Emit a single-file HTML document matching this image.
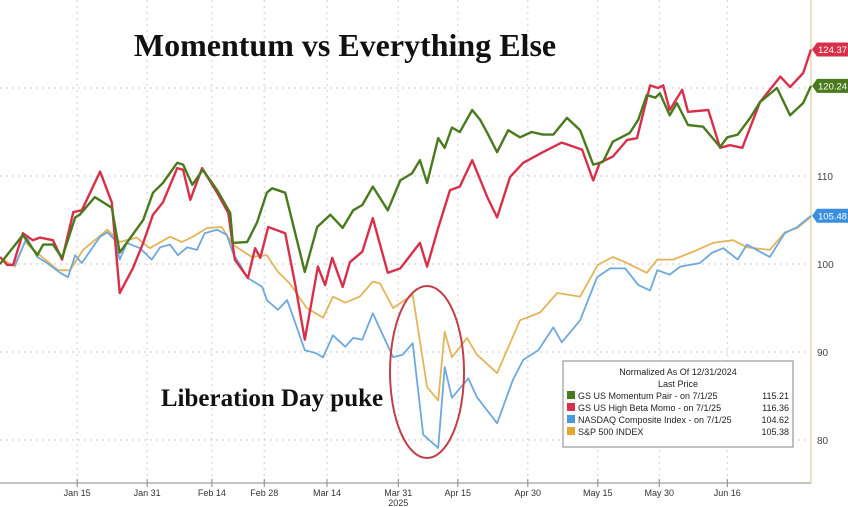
<!DOCTYPE html>
<html><head><meta charset="utf-8"><style>
body{margin:0;background:#fff;}
svg{display:block;font-family:"Liberation Sans",sans-serif;}
</style></head><body>
<svg id="chart" width="848" height="507" viewBox="0 0 848 507">
<g id="grid"></g>
<line x1="811" y1="0" x2="811" y2="483" stroke="#e6d9b0" stroke-width="1.5"/>
<g id="series"></g>
<line x1="0" y1="483" x2="811" y2="483" stroke="#888" stroke-width="1"/>
<g id="xaxis"></g>
<g id="yaxis"></g>
<g id="endlabels"></g>
<text x="345" y="56" text-anchor="middle" font-family="Liberation Serif,serif" font-weight="bold" font-size="32" fill="#111">Momentum vs Everything Else</text>
<text x="272" y="406" text-anchor="middle" font-family="Liberation Serif,serif" font-weight="bold" font-size="25" fill="#111">Liberation Day puke</text>
<ellipse cx="427" cy="372" rx="37" ry="86" fill="none" stroke="#c0404a" stroke-width="2"/>
<g>
<rect x="563" y="361" width="230" height="86" fill="#fff" stroke="#999" stroke-width="1.2"/>
<text x="678" y="375" text-anchor="middle" font-size="9" fill="#222">Normalized As Of 12/31/2024</text>
<text x="678" y="387" text-anchor="middle" font-size="9" fill="#222">Last Price</text>
<g font-size="9" fill="#222">
<rect x="567" y="391" width="8" height="8" fill="#4a7a1e"/>
<text x="578" y="399">GS US Momentum Pair -  on 7/1/25</text>
<text x="789" y="399" text-anchor="end">115.21</text>
<rect x="567" y="403" width="8" height="8" fill="#d8304a"/>
<text x="578" y="411">GS US High Beta Momo -  on 7/1/25</text>
<text x="789" y="411" text-anchor="end">116.36</text>
<rect x="567" y="415" width="8" height="8" fill="#4a9ae0"/>
<text x="578" y="423">NASDAQ Composite Index -  on 7/1/25</text>
<text x="789" y="423" text-anchor="end">104.62</text>
<rect x="567" y="427" width="8" height="8" fill="#e0a830"/>
<text x="578" y="435">S&amp;P 500 INDEX</text>
<text x="789" y="435" text-anchor="end">105.38</text>
</g></g>
</svg>
<script>
// x = trading day index since 12/31/2024, y = normalized value
const momDays=[0,3.5,5.7,6.6,8.1,9.5,11.5,12.2,14.5,17.1,18.3,21.9,23.4,24.9,27.1,28.0,29.4,31.0,33.2,35.2,35.6,37.8,39.3,40.8,41.6,43.6,46.6,48.5,50.5,52.4,54.0,55.4,57.0,59.3,61.2,63.0,64.2,65.3,67.0,68.0,69.1,70.3,72.2,73.4,74.5,76.0,77.7,79.5,81.3,83.0,84.6,86.7,88.7,90.7,92.2,93.7,96.3,97.6,98.9,100.2,100.9,102.4,103.5,105.2,107.5,110.1,111.2,112.8,114.7,116.2,118.8,120.8,122.8,124];
const momVals=[100,103.3,101.0,102.2,102.2,100.7,105.3,105.6,107.6,106.4,101.3,105.0,108.1,109.2,111.5,111.3,109.0,110.7,108.4,105.8,102.4,102.5,104.7,108.1,108.6,108.1,99.1,104.2,105.6,104.1,106.1,106.7,108.8,106.1,109.5,110.3,111.8,109.2,114.3,113.2,115.5,115.0,117.5,116.4,114.9,112.7,115.2,114.4,115.0,114.7,114.7,116.6,115.2,111.3,111.6,113.9,114.9,116.4,119.2,118.9,119.4,116.9,118.3,115.8,115.6,113.3,114.4,114.7,116.6,118.4,120.0,116.9,118.3,120.24];
const betaDays=[0,1.1,2.0,3.5,5.0,6.1,8.1,9.5,11.2,12.5,15.3,17.1,18.3,20.3,21.9,23.4,24.9,27.1,28.0,29.1,30.9,33.2,34.9,35.9,37.9,39.0,39.8,41.0,43.6,45.1,46.6,48.6,49.7,50.8,52.4,53.5,55.4,57.0,59.3,61.2,64.2,65.3,67.0,68.8,70.3,72.2,74.5,76.0,78.0,80.0,83.0,85.9,89.0,90.7,91.7,93.7,95.9,97.4,99.4,100.6,101.4,102.4,104.3,105.2,108.3,110.1,111.6,113.5,116.2,119.3,120.8,122.8,124];
const betaVals=[100.8,99.9,99.9,103.5,102.7,103.0,102.7,100.5,105.9,106.1,110.5,107.0,96.7,99.5,102.4,105.6,107.0,110.9,110.7,107.3,110.9,108.1,105.8,100.5,98.4,101.8,100.7,104.2,103.5,97.8,91.4,99.7,97.6,100.7,97.4,100.2,101.4,105.2,99.0,99.5,102.4,99.7,104.1,108.4,108.8,111.8,107.6,105.3,109.9,111.5,112.7,113.8,113.0,109.5,111.5,112.2,114.1,114.3,120.3,120.0,120.3,117.5,119.8,117.3,117.5,113.2,113.5,113.2,118.4,121.3,120.1,121.7,124.37];
const ndxDays=[0,1.1,2.3,4.1,5.7,7.2,9.2,10.4,11.5,12.5,15.3,16.4,17.6,18.3,19.4,21.4,23.2,24.5,26.0,27.2,28.6,30.1,31.3,33.2,34.7,35.6,37.9,40.1,40.8,42.5,43.9,45.1,46.6,48.2,49.4,50.9,52.8,54.0,55.4,57.0,60.1,61.6,63.1,64.7,67.0,68.0,69.1,71.6,72.9,76.0,78.4,80.0,82.3,84.6,85.9,88.7,91.3,93.3,95.6,97.6,99.4,100.5,102.4,104.0,107.0,108.9,110.6,112.8,114.2,117.7,120.0,121.9,124];
const ndxVals=[100.8,99.9,99.9,103.0,100.8,100.1,99.0,98.5,101.0,100.1,103.1,103.6,102.7,100.5,102.4,101.8,100.5,101.9,102.2,101.0,101.9,101.6,103.5,103.9,103.3,101.3,98.4,97.4,95.9,94.8,95.9,93.4,90.2,89.9,89.4,91.9,90.6,91.6,91.4,94.4,89.4,89.7,91.0,80.6,79.1,88.3,84.8,87.0,84.9,81.9,86.8,89.1,90.2,92.8,91.1,93.6,98.5,99.5,99.5,97.6,97.0,99.3,98.8,99.7,100.1,101.3,101.8,100.5,102.2,100.8,103.5,104.2,105.48];
const spxDays=[0,2.3,3.8,6.1,8.9,10.7,12.7,16.4,18.3,20.9,22.9,26.0,27.8,29.5,31.7,33.9,35.6,38.5,40.8,42.5,44.3,46.9,49.4,50.9,52.8,55.0,57.0,58.1,60.1,63.1,65.3,67.0,68.0,69.1,71.4,72.9,76.0,79.5,82.6,85.2,88.7,91.4,93.7,95.9,98.9,100.5,102.9,106.0,109.0,112.1,114.2,117.7,120.0,121.9,124];
const spxVals=[100.7,99.7,102.5,101.0,99.3,99.3,101.6,103.9,102.5,103.0,101.8,103.1,102.5,103.1,104.1,104.2,102.2,100.8,101.0,99.1,97.8,95.0,93.9,96.3,95.6,96.3,98.0,97.8,95.0,96.5,86.0,84.5,92.3,89.4,91.6,89.7,87.6,93.6,94.5,96.7,96.3,99.9,100.8,100.1,99.0,100.5,100.5,101.4,102.4,102.7,101.9,101.6,103.6,104.1,105.38];
const tickDays=[11.8,22.5,32.4,40.4,50,60.9,70,80.7,91.4,100.8,111.2];
const tickLabels=["Jan 15","Jan 31","Feb 14","Feb 28","Mar 14","Mar 31","Apr 15","Apr 30","May 15","May 30","Jun 16"];
const yTicks=[80,90,100,110,120];
const yTickLabels=["80","90","100","110",""];

const NS="http://www.w3.org/2000/svg";
const X0=0,X1=811,D1=124;
function xs(d){return X0+(X1-X0)*d/D1;}
function ys(v){return 264-(v-100)*8.8;}
function mk(tag,attrs,parent){const e=document.createElementNS(NS,tag);for(const k in attrs)e.setAttribute(k,attrs[k]);parent.appendChild(e);return e;}
const grid=document.getElementById('grid');
yTicks.forEach((v,i)=>{
 const l=mk('line',{x1:0,x2:811,y1:ys(v),y2:ys(v),stroke:'#c8c8c8','stroke-dasharray':'2,4','stroke-width':1},grid);
 
 
});
const xa=document.getElementById('xaxis');
tickDays.forEach((d,i)=>{
 const g=mk('line',{x1:xs(d),x2:xs(d),y1:0,y2:483,stroke:'#d0d0d0','stroke-dasharray':'2,4','stroke-width':1},grid);
 
 
 const t=mk('line',{x1:xs(d),x2:xs(d),y1:479,y2:487,stroke:'#888'},xa);
 
 
 const tx=mk('text',{x:xs(d),y:496,'text-anchor':'middle','font-size':'9',fill:'#333'},xa);
 tx.textContent=tickLabels[i];
 
 
});
const yr=mk('text',{x:xs(60.9),y:506,'text-anchor':'middle','font-size':'9',fill:'#333'},xa);
yr.textContent='2025';


const ya=document.getElementById('yaxis');
yTicks.forEach((v,i)=>{
 if(!yTickLabels[i])return;
 const t=mk('text',{x:817,y:ys(v)+4,'font-size':'10',fill:'#444'},ya);
 t.textContent=yTickLabels[i];
 
 
});
const ser=document.getElementById('series');
function line(days,vals,color,w,name){
 const pts=days.map((d,i)=>xs(d).toFixed(1)+','+ys(vals[i]).toFixed(1)).join(' ');
 const p=mk('polyline',{points:pts,fill:'none',stroke:color,'stroke-width':w,'stroke-linejoin':'round'},ser);
 
 
}
line(spxDays,spxVals,'#e3b55a',1.8,'sp500-line');
line(ndxDays,ndxVals,'#6fa8dc',1.8,'nasdaq-line');
line(betaDays,betaVals,'#d8304a',2.4,'high-beta-momo-line');
line(momDays,momVals,'#4a7a1e',2.4,'momentum-pair-line');
const el=document.getElementById('endlabels');
[[betaVals,'#d8304a','124.37','end-label-high-beta'],[momVals,'#4a7a1e','120.24','end-label-momentum'],[ndxVals,'#3a8ee0','105.48','end-label-nasdaq']].forEach(a=>{
 const y=ys(a[0][a[0].length-1]);
 const p=mk('path',{d:`M812 ${y} L817 ${y-7} L848 ${y-7} L848 ${y+7} L817 ${y+7} Z`,fill:a[1]},el);
 
 
 const t=mk('text',{x:818,y:y+3.5,'font-size':'9.5',fill:'#fff'},el);
 t.textContent=a[2];
 
 
});
</script>
</body></html>
